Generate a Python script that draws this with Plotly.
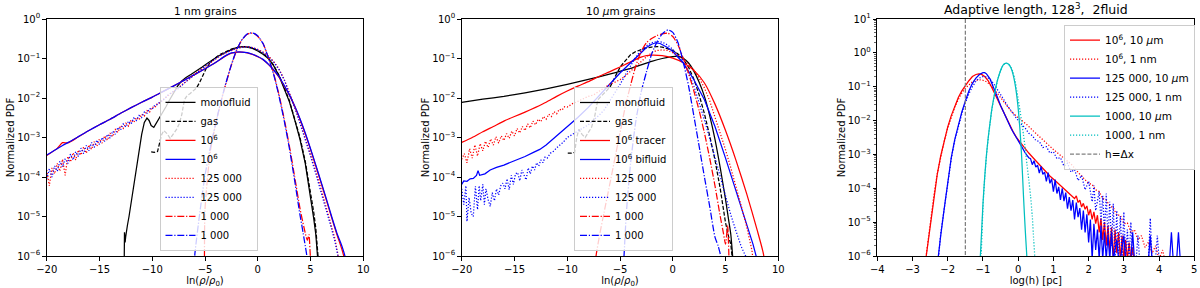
import plotly.graph_objects as go

# ======================= DATA =======================
# ---------- Panel 1 : 1 nm grains  (x = ln(rho/rho0)) ----------
p1_mono_x = [-12.66, -12.63, -12.6, -12.57, -12.52, -12.45, -12.35, -12.2, -12.0, -11.8, -11.5, -11.2, -11.0,
             -10.75, -10.5, -10.3, -10.1, -9.85, -9.6, -9.3, -9.0, -8.7, -8.4, -8.0, -7.6, -7.2, -6.8, -6.3,
             -5.8, -5.3, -4.8, -4.3, -3.8, -3.3, -2.8, -2.3, -1.8, -1.4, -1.0, -0.5, 0.0, 0.5, 1.0, 1.5, 2.0,
             2.5, 3.0, 3.5, 4.0, 4.5, 5.0, 5.3, 5.5, 5.65, 5.75]
p1_mono_y = [5e-7, 4e-6, 5e-7, 2.2e-6, 3e-6, 4.5e-6, 6e-6, 1e-5, 2.2e-5, 5e-5, 1.6e-4, 6e-4, 1.2e-3,
             2.4e-3, 3.1e-3, 2.7e-3, 2.0e-3, 1.8e-3, 2.3e-3, 3.1e-3, 4.2e-3, 6e-3, 8.5e-3, 1.35e-2, 2.0e-2,
             2.7e-2, 3.3e-2, 4.0e-2, 4.8e-2, 6.0e-2, 7.5e-2, 9.3e-2, 1.12e-1, 1.32e-1, 1.55e-1, 1.78e-1,
             1.95e-1, 2.0e-1, 1.95e-1, 1.8e-1, 1.55e-1, 1.28e-1, 1.0e-1, 6.6e-2, 3.7e-2, 1.8e-2, 8e-3,
             2.8e-3, 9e-4, 2.2e-4, 3.5e-5, 9e-6, 3.5e-6, 1.2e-6, 5e-7]

p1_gas_x = [-10.1, -9.8, -9.5, -9.3, -9.1, -8.9, -8.6, -8.3, -8.0, -7.7, -7.45, -7.2, -6.95, -6.7, -6.4,
            -6.1, -5.8, -5.5, -5.2, -4.9, -4.5, -4.0, -3.5, -3.0, -2.5, -2.0, -1.5, -1.0, -0.5, 0.0, 0.5,
            1.0, 1.5, 2.0, 2.5, 3.0, 3.5, 4.0, 4.5, 5.0, 5.3, 5.5, 5.7, 5.8]
p1_gas_y = [4.3e-4, 4.2e-4, 4.4e-4, 7e-4, 1.2e-3, 1.5e-3, 1.25e-3, 9.5e-4, 1.2e-3, 1.6e-3, 2.2e-3, 3.8e-3,
            9e-3, 1.15e-2, 1.3e-2, 1.5e-2, 1.8e-2, 2.5e-2, 3.6e-2, 5.5e-2, 8.0e-2, 1.05e-1, 1.3e-1, 1.52e-1,
            1.72e-1, 1.9e-1, 2.0e-1, 1.98e-1, 1.85e-1, 1.6e-1, 1.32e-1, 1.03e-1, 6.8e-2, 3.8e-2, 1.9e-2,
            8.5e-3, 3.0e-3, 1.0e-3, 2.5e-4, 4.5e-5, 1.3e-5, 5e-6, 1.3e-6, 5e-7]

p1_1e6_x = [-20, -19, -18.5, -18, -17, -16, -15, -14, -13, -12, -11, -10, -9, -8, -7, -6, -5, -4, -3, -2.5,
            -2, -1.5, -1, -0.5, 0, 0.5, 1, 1.5, 2, 2.5, 3, 3.5, 4, 4.5, 5, 5.5, 6, 6.5, 7, 7.5, 8, 8.3, 8.45]
p1_red1e6_y = [3.5e-4, 5.3e-4, 7.4e-4, 7.3e-4, 1.04e-3, 1.5e-3, 2.1e-3, 2.9e-3, 4.1e-3, 5.7e-3, 7.8e-3,
               1.05e-2, 1.45e-2, 2.0e-2, 2.8e-2, 3.9e-2, 5.5e-2, 7.9e-2, 1.18e-1, 1.36e-1, 1.44e-1, 1.45e-1,
               1.39e-1, 1.27e-1, 1.11e-1, 9.3e-2, 7.1e-2, 5.1e-2, 3.4e-2, 2.05e-2, 1.17e-2, 6.1e-3, 2.9e-3,
               1.25e-3, 5.0e-4, 1.9e-4, 7.1e-5, 2.6e-5, 9.4e-6, 3.5e-6, 1.4e-6, 7e-7, 5e-7]
p1_blue1e6_y = [3.6e-4, 5.2e-4, 6.3e-4, 7.4e-4, 1.05e-3, 1.5e-3, 2.1e-3, 2.9e-3, 4.1e-3, 5.7e-3, 7.8e-3,
                1.05e-2, 1.45e-2, 2.0e-2, 2.8e-2, 3.9e-2, 5.5e-2, 7.9e-2, 1.2e-1, 1.38e-1, 1.46e-1, 1.46e-1,
                1.4e-1, 1.28e-1, 1.12e-1, 9.5e-2, 7.2e-2, 5.2e-2, 3.5e-2, 2.1e-2, 1.2e-2, 6.3e-3, 3.0e-3,
                1.3e-3, 5.2e-4, 2.0e-4, 7.5e-5, 2.8e-5, 1.0e-5, 3.8e-6, 1.7e-6, 9e-7, 5e-7]

p1_125_x = [-20, -19.75, -19.5, -19.25, -19, -18.75, -18.5, -18.25, -18, -17.75, -17.5, -17.25, -17, -16.75,
            -16.5, -16.25, -16, -15.75, -15.5, -15.25, -15, -14.75, -14.5, -14.25, -14, -13.75, -13.5, -13.25,
            -13, -12.75, -12.5, -12.25, -12, -11.75, -11.5, -11.25, -11, -10.75, -10.5, -10.25, -10, -9.75,
            -9.5, -9.25, -9, -8.5, -8, -7.5, -7, -6.5, -6, -5.5, -5, -4.5, -4, -3.5, -3, -2.5, -2, -1.5, -1,
            -0.5, 0, 0.5, 1, 1.5, 2, 2.5, 3, 3.5, 4, 4.5, 5, 5.5, 6, 6.5, 7, 7.3, 7.6, 7.7]
p1_red125_y = [1.5e-4, 6e-5, 1.7e-4, 1.2e-4, 2.2e-4, 1.4e-4, 2.8e-4, 1.1e-4, 3.3e-4, 2.4e-4, 4.1e-4, 2.7e-4,
               4.8e-4, 3.6e-4, 5.8e-4, 4.0e-4, 6.5e-4, 5.0e-4, 7.8e-4, 6.0e-4, 9.2e-4, 7.2e-4, 1.1e-3, 8.5e-4,
               1.3e-3, 1.05e-3, 1.6e-3, 1.35e-3, 2.0e-3, 1.7e-3, 2.3e-3, 1.95e-3, 2.8e-3, 2.4e-3, 3.2e-3,
               2.8e-3, 3.9e-3, 3.5e-3, 4.8e-3, 4.4e-3, 5.9e-3, 5.7e-3, 7.3e-3, 7.5e-3, 9.0e-3,
               1.15e-2, 1.4e-2, 1.8e-2, 2.3e-2, 3.0e-2, 4.0e-2, 5.0e-2, 6.3e-2, 7.8e-2, 1.0e-1, 1.2e-1,
               1.4e-1, 1.6e-1, 1.8e-1, 1.95e-1, 2.0e-1, 1.9e-1, 1.7e-1, 1.45e-1, 1.15e-1, 8.5e-2, 5.5e-2,
               3.0e-2, 1.4e-2, 6.0e-3, 2.5e-3, 1.0e-3, 3.8e-4, 1.4e-4, 5e-5, 1.7e-5, 5.5e-6, 2.8e-6, 1.1e-6, 5e-7]
p1_blue125_y = [9e-5, 1.6e-4, 1.0e-4, 1.9e-4, 1.4e-4, 2.5e-4, 1.8e-4, 2.9e-4, 2.2e-4, 3.8e-4, 2.7e-4, 4.4e-4,
                3.3e-4, 5.4e-4, 3.9e-4, 6.3e-4, 4.6e-4, 7.5e-4, 5.6e-4, 8.6e-4, 6.7e-4, 1.0e-3, 8.0e-4, 1.2e-3,
                9.6e-4, 1.45e-3, 1.2e-3, 1.8e-3, 1.55e-3, 2.2e-3, 1.85e-3, 2.6e-3, 2.2e-3, 3.1e-3, 2.7e-3,
                3.6e-3, 3.2e-3, 4.4e-3, 4.1e-3, 5.4e-3, 5.2e-3, 6.6e-3, 6.8e-3, 8.2e-3, 8.6e-3,
                1.2e-2, 1.45e-2, 1.75e-2, 2.35e-2, 3.05e-2, 3.9e-2, 5.1e-2, 6.4e-2, 8.0e-2, 1.0e-1, 1.22e-1,
                1.42e-1, 1.62e-1, 1.8e-1, 1.93e-1, 1.98e-1, 1.88e-1, 1.68e-1, 1.42e-1, 1.12e-1, 8.2e-2, 5.3e-2,
                2.9e-2, 1.35e-2, 5.7e-3, 2.3e-3, 9.2e-4, 3.4e-4, 1.2e-4, 4.3e-5, 1.45e-5, 4.8e-6, 2.4e-6, 1.0e-6, 5e-7]

p1_blue1000_x = [-6.05, -5.95, -5.5, -5.0, -4.5, -4.0, -3.5, -3.0, -2.5, -2.0, -1.5, -1.0, -0.65, -0.3, 0.0,
                 0.5, 1.0, 1.5, 2.0, 2.5, 3.0, 3.5, 4.0, 4.3, 4.5, 4.65, 4.72]
p1_blue1000_y = [5e-7, 1.2e-6, 1.2e-5, 1.1e-4, 5.5e-4, 2.2e-3, 8e-3, 2.5e-2, 7e-2, 1.65e-1, 3.0e-1, 4.15e-1,
                 4.45e-1, 4.25e-1, 3.7e-1, 2.4e-1, 1.05e-1, 4.0e-2, 1.15e-2, 2.7e-3, 5.2e-4, 8e-5, 1.1e-5,
                 3.8e-6, 1.8e-6, 1e-6, 5e-7]
p1_red1000_x = [-5.05, -5.0, -4.5, -4.0, -3.5, -3.0, -2.5, -2.0, -1.5, -1.0, -0.65, -0.3, 0.0, 0.5, 1.0, 1.5,
                2.0, 2.5, 3.0, 3.5, 4.0, 4.4, 4.7, 4.85, 4.95, 5.05]
p1_red1000_y = [5e-7, 1.5e-5, 4.5e-4, 2.1e-3, 7.8e-3, 2.4e-2, 6.8e-2, 1.62e-1, 2.95e-1, 4.1e-1, 4.4e-1,
                4.2e-1, 3.65e-1, 2.4e-1, 1.07e-1, 4.2e-2, 1.25e-2, 3.0e-3, 6.0e-4, 1.0e-4, 1.6e-5, 5e-6,
                2.5e-6, 3.5e-6, 1.4e-6, 5e-7]

# ---------- Panel 2 : 10 um grains ----------
p2_mono_x = [-20, -18, -16, -14, -12, -10, -8, -6, -4, -3, -2, -1, 0, 0.5, 1, 1.5, 2, 2.5, 3, 3.5, 4, 4.5,
             5, 5.3, 5.5, 5.65, 5.75]
p2_mono_y = [7.7e-3, 9.3e-3, 1.1e-2, 1.35e-2, 1.7e-2, 2.2e-2, 2.95e-2, 4.0e-2, 5.6e-2, 6.9e-2, 8.5e-2,
             1.0e-1, 1.12e-1, 1.15e-1, 1.02e-1, 7.7e-2, 4.8e-2, 2.5e-2, 1.1e-2, 3.6e-3, 9e-4, 1.7e-4,
             2.7e-5, 8e-6, 3.5e-6, 1.2e-6, 5e-7]

p2_gas_x = [-9.95, -9.6, -9.3, -9.1, -8.9, -8.6, -8.3, -8.0, -7.7, -7.4, -7.1, -6.8, -6.5, -6.2, -5.9, -5.6,
            -5.3, -4.95, -4.5, -4.0, -3.5, -3.0, -2.5, -2.0, -1.5, -1.0, -0.5, 0, 0.5, 1, 1.5, 2, 2.5, 3,
            3.5, 4, 4.5, 5, 5.3, 5.5, 5.6, 5.7]
p2_gas_y = [4e-4, 4e-4, 4.2e-4, 1e-3, 1.6e-3, 1.2e-3, 1.0e-3, 1.4e-3, 1.8e-3, 3.4e-3, 9e-3, 1.1e-2, 1.3e-2,
            1.6e-2, 2e-2, 3e-2, 4.2e-2, 6.3e-2, 9e-2, 1.25e-1, 1.5e-1, 1.7e-1, 1.85e-1, 1.95e-1, 2.0e-1,
            1.95e-1, 1.8e-1, 1.6e-1, 1.3e-1, 9.5e-2, 6e-2, 3e-2, 1.2e-2, 4e-3, 1.1e-3, 2.7e-4, 5e-5, 7e-6,
            3e-6, 2e-6, 1.1e-6, 5e-7]

p2_tracer_x = [-20, -19, -18, -17, -16, -15, -14, -13, -12, -11, -10, -9, -8, -7, -6, -5, -4, -3, -2.5, -2,
               -1, 0, 1, 2, 3, 4, 5, 6, 7, 8, 8.6, 8.7]
p2_tracer_y = [7.5e-4, 1.0e-3, 1.4e-3, 1.9e-3, 2.6e-3, 3.4e-3, 4.4e-3, 5.8e-3, 7.8e-3, 1.1e-2, 1.5e-2,
               2.0e-2, 2.6e-2, 3.5e-2, 4.6e-2, 6.1e-2, 8.2e-2, 1.08e-1, 1.18e-1, 1.22e-1, 1.18e-1, 1.02e-1,
               7.8e-2, 5.0e-2, 2.4e-2, 7.0e-3, 1.5e-3, 2.6e-4, 3.8e-5, 4.5e-6, 1.1e-6, 5e-7]

p2_bifluid_x = [-20, -19.8, -19.5, -19.2, -18.9, -18.6, -18.45, -18.3, -17.8, -17.3, -16.7, -16, -15.3,
                -14.8, -14, -13.2, -12.6, -12, -11.5, -11, -10.5, -10, -9, -8, -7, -6, -5, -4, -3, -2.5,
                -2, -1.6, -1.2, -0.5, 0, 1, 2, 3, 4, 5, 6, 7, 7.6, 7.9, 8.0]
p2_bifluid_y = [6.5e-5, 8e-5, 7.8e-5, 9e-5, 9.2e-5, 1.1e-4, 1.45e-4, 1.1e-4, 1.2e-4, 1.5e-4, 1.75e-4,
                2.0e-4, 2.4e-4, 2.7e-4, 3.3e-4, 4.2e-4, 5e-4, 6.5e-4, 8.5e-4, 1.1e-3, 1.4e-3, 1.9e-3,
                3.2e-3, 5.8e-3, 1.1e-2, 2.2e-2, 4.3e-2, 8e-2, 1.4e-1, 1.9e-1, 2.3e-1, 2.5e-1, 2.4e-1,
                1.9e-1, 1.5e-1, 7.7e-2, 2.9e-2, 9e-3, 1.9e-3, 3e-4, 4.5e-5, 6e-6, 2e-6, 1e-6, 5e-7]

p2_red125_x = [-20, -19.75, -19.5, -19.25, -19, -18.75, -18.5, -18.25, -18, -17.75, -17.5, -17.25, -17,
               -16.75, -16.5, -16.25, -16, -15.75, -15.5, -15.25, -15, -14.75, -14.5, -14.25, -14, -13.75,
               -13.5, -13.25, -13, -12.75, -12.5, -12.25, -12, -11.75, -11.5, -11.25, -11, -10.75, -10.5,
               -10.25, -10, -9.5, -9, -8.5, -8, -7.5, -7, -6.5, -6, -5.5, -5, -4.5, -4, -3.5, -3, -2.5,
               -2, -1.5, -1, -0.5, 0, 0.5, 1, 1.5, 2, 2.5, 3, 3.5, 4, 4.5, 5, 5.5, 6, 6.5, 7, 7.5, 7.7]
p2_red125_y = [2.8e-4, 3.9e-4, 2.3e-4, 5.2e-4, 3.0e-4, 6.5e-4, 3.4e-4, 7.0e-4, 4.6e-4, 8.0e-4, 5.6e-4,
               9.2e-4, 6.4e-4, 1.05e-3, 7.2e-4, 1.1e-3, 8.4e-4, 1.25e-3, 9.5e-4, 1.45e-3, 1.1e-3, 1.7e-3,
               1.3e-3, 1.9e-3, 1.5e-3, 2.2e-3, 1.75e-3, 2.6e-3, 2.1e-3, 2.9e-3, 2.5e-3, 3.4e-3, 2.9e-3,
               3.9e-3, 3.4e-3, 4.5e-3, 4.0e-3, 5.2e-3, 4.9e-3, 6.0e-3, 5.9e-3,
               7.2e-3, 8.2e-3, 9.5e-3, 1.1e-2, 1.2e-2, 1.45e-2, 1.8e-2, 2.2e-2, 2.5e-2, 2.9e-2, 3.6e-2,
               4.8e-2, 6.5e-2, 8.5e-2, 1.1e-1, 1.4e-1, 1.6e-1, 1.65e-1, 1.6e-1, 1.4e-1, 1.2e-1, 9.5e-2,
               7.2e-2, 5.2e-2, 3.2e-2, 1.8e-2, 8.5e-3, 3.4e-3, 1.3e-3, 4.9e-4, 1.7e-4, 5.8e-5, 1.8e-5,
               5.6e-6, 1.4e-6, 5e-7]

p2_blue125_x = [-20, -19.8, -19.6, -19.5, -19.3, -19.1, -18.9, -18.7, -18.5, -18.35, -18.2, -18.0, -17.85,
                -17.7, -17.5, -17.3, -17.1, -16.9, -16.7, -16.5, -16.3, -16.1, -15.9, -15.7, -15.5, -15.3,
                -15.1, -14.9, -14.7, -14.5, -14.3, -14.1, -13.9, -13.7, -13.5, -13.3, -13.1, -12.9, -12.7,
                -12.5, -12.3, -12.1, -11.9, -11.6, -11.3, -11.0, -10.7, -10.4, -10.0, -9.5, -9, -8.5, -8,
                -7.5, -7, -6.5, -6, -5.5, -5, -4.5, -4, -3.5, -3, -2.5, -2, -1.5, -1, -0.5, 0, 0.5, 1, 1.5,
                2, 2.5, 3, 3.5, 4, 4.5, 5, 5.5, 6, 6.5, 6.9, 7.0]
p2_blue125_y = [5e-5, 2e-5, 6e-5, 7.5e-6, 3e-5, 1.2e-5, 1e-5, 5.8e-5, 1.5e-5, 6e-5, 2.5e-5, 6.5e-5, 2e-5,
                5e-5, 2.7e-5, 1.8e-5, 4e-5, 2.5e-5, 5e-5, 3.5e-5, 6e-5, 7e-5, 5e-5, 9e-5, 4.8e-5, 1.1e-4,
                6.5e-5, 1.2e-4, 1.3e-4, 8e-5, 1.5e-4, 1.1e-4, 8.5e-5, 1.7e-4, 1.2e-4, 1.9e-4, 1.5e-4, 2.3e-4,
                1.9e-4, 2.7e-4, 2.3e-4, 3.2e-4, 3e-4, 4e-4, 4.5e-4, 5.5e-4, 6.5e-4, 7.5e-4, 1.0e-3, 1.2e-3,
                1.4e-3, 1.7e-3, 2.1e-3, 2.8e-3, 3.6e-3, 5e-3, 8e-3, 1.3e-2, 2.2e-2, 3.8e-2, 6.3e-2, 1.1e-1,
                1.6e-1, 2.1e-1, 2.5e-1, 2.7e-1, 2.6e-1, 2.2e-1, 1.7e-1, 1.2e-1, 7.7e-2, 4.2e-2, 2.0e-2,
                8e-3, 2.8e-3, 9.5e-4, 3.0e-4, 1.0e-4, 3e-5, 1.1e-5, 4.2e-6, 1.7e-6, 1e-6, 5e-7]

p2_red1000_x = [-7.35, -7.27, -6.9, -6.5, -6.0, -5.5, -5.0, -4.5, -4.0, -3.5, -3.0, -2.5, -2.0, -1.5, -1.0,
                -0.5, 0, 0.5, 1.0, 1.5, 2.0, 2.5, 3.0, 3.5, 4.0, 4.5, 4.8, 5.0, 5.2, 5.3, 5.35]
p2_red1000_y = [5e-7, 1e-6, 3.8e-6, 1.3e-5, 6e-5, 2.8e-4, 1.3e-3, 6e-3, 2.1e-2, 6.5e-2, 1.5e-1, 2.5e-1,
                3.2e-1, 3.8e-1, 4.2e-1, 4.4e-1, 3.6e-1, 2.2e-1, 1.0e-1, 4.2e-2, 1.5e-2, 4.8e-3, 1.3e-3,
                3e-4, 6e-5, 1e-5, 3.8e-6, 2e-6, 6e-6, 1.5e-6, 5e-7]
p2_blue1000_x = [-4.7, -4.62, -4.4, -4.0, -3.5, -3.0, -2.5, -2.0, -1.5, -1.0, -0.45, 0, 0.5, 1.0, 1.5, 2.0,
                 2.5, 3.0, 3.5, 4.0, 4.3, 4.54, 4.6]
p2_blue1000_y = [5e-7, 1e-6, 1.2e-5, 2.2e-4, 2.6e-3, 1.4e-2, 4.5e-2, 1.3e-1, 2.6e-1, 4.2e-1, 5.3e-1, 4.6e-1,
                 2.5e-1, 8e-2, 2e-2, 3.5e-3, 6e-4, 1e-4, 1.8e-5, 3e-6, 1.8e-6, 1e-6, 5e-7]

# ---------- Panel 3 : adaptive length (x = log h [pc]) ----------
p3_red10_x = [-2.65, -2.6, -2.5, -2.4, -2.3, -2.2, -2.1, -2.0, -1.9, -1.8, -1.7, -1.6, -1.5, -1.4, -1.3, -1.2,
              -1.12, -1.05, -0.95, -0.85, -0.75, -0.65, -0.55, -0.45, -0.35, -0.25, -0.15, -0.05, 0.1, 0.3,
              0.5, 0.7, 0.9, 1.1, 1.3, 1.5,
              1.6, 1.65, 1.7, 1.75, 1.8, 1.85, 1.9, 1.95, 2.0, 2.05, 2.1, 2.15, 2.2, 2.25, 2.3, 2.35, 2.4,
              2.45, 2.5, 2.55, 2.6, 2.65, 2.7, 2.75, 2.8, 2.85, 2.9, 2.95, 3.0, 3.05, 3.1, 3.15, 3.2, 3.25,
              3.3, 3.35]
p3_red10_y = [5e-7, 1.2e-6, 6e-6, 5e-5, 2.5e-4, 9e-4, 2.6e-3, 6.5e-3, 1.4e-2, 2.8e-2, 4.8e-2, 7.5e-2, 1.1e-1,
              1.5e-1, 2.0e-1, 2.3e-1, 2.4e-1, 2.35e-1, 2.0e-1, 1.5e-1, 9.5e-2, 5.8e-2, 3.4e-2, 2.0e-2,
              1.2e-2, 7.5e-3, 4.8e-3, 3.2e-3, 2.0e-3, 1.1e-3, 6.5e-4, 3.8e-4, 2.3e-4, 1.5e-4, 9.5e-5, 6.2e-5,
              5e-5, 6e-5, 3.8e-5, 4.5e-5, 2.8e-5, 3.6e-5, 2.4e-5, 3e-5, 1.6e-5, 2.4e-5, 1.2e-5, 2e-5, 9e-6,
              1.6e-5, 5e-6, 1.3e-5, 3e-6, 1e-5, 2e-6, 8e-6, 1.5e-6, 7e-6, 8e-7, 6e-6, 1.2e-6, 5e-6, 8e-7,
              4e-6, 8e-7, 3e-6, 8e-7, 2.5e-6, 8e-7, 1.8e-6, 5e-7, 5e-7]

p3_red1nm_x = [-2.65, -2.6, -2.5, -2.4, -2.3, -2.2, -2.1, -2.0, -1.9, -1.8, -1.7, -1.6, -1.5, -1.4, -1.3, -1.2,
               -1.1, -1.0, -0.9, -0.8, -0.7, -0.6, -0.5, -0.4, -0.3, -0.2, -0.1, 0.0, 0.25, 0.5, 0.75, 1.0,
               1.25, 1.5, 1.75, 2.0,
               2.1, 2.2, 2.3, 2.4, 2.5, 2.6, 2.7, 2.8, 2.9, 3.0, 3.1, 3.2, 3.3, 3.4, 3.5, 3.6, 3.7, 3.8, 3.9,
               4.0, 4.1, 4.2]
p3_red1nm_y = [5e-7, 1.3e-6, 6.5e-6, 5.5e-5, 2.6e-4, 9e-4, 2.5e-3, 6e-3, 1.3e-2, 2.5e-2, 4.2e-2, 6.5e-2,
               9e-2, 1.15e-1, 1.4e-1, 1.55e-1, 1.6e-1, 1.55e-1, 1.4e-1, 1.15e-1, 9e-2, 6.5e-2, 4.7e-2,
               3.4e-2, 2.5e-2, 1.9e-2, 1.5e-2, 1.25e-2, 7.5e-3, 4.2e-3, 2.4e-3, 1.4e-3, 8.5e-4, 5.2e-4,
               2.6e-4, 1.4e-4,
               1.3e-4, 9e-5, 8e-5, 5e-5, 4.5e-5, 3e-5, 2.7e-5, 1.6e-5, 1.6e-5, 9e-6, 9.5e-6, 5e-6, 6e-6,
               3e-6, 4e-6, 1.8e-6, 2.6e-6, 1.2e-6, 2e-6, 8e-7, 1.5e-6, 5e-7]

p3_blue10_x = [-2.3, -2.27, -2.2, -2.1, -2.0, -1.9, -1.8, -1.7, -1.6, -1.5, -1.4, -1.3, -1.2, -1.1, -1.0,
               -0.95, -0.9, -0.8, -0.7, -0.6, -0.5, -0.4, -0.3, -0.2, -0.1, 0.0, 0.1, 0.2, 0.3,
               0.35, 0.4, 0.45, 0.5, 0.55, 0.6, 0.65, 0.7, 0.75, 0.8, 0.85, 0.9, 0.95, 1.0, 1.05, 1.1, 1.15,
               1.2, 1.25, 1.3, 1.35, 1.4, 1.45, 1.5, 1.55, 1.6, 1.65, 1.7, 1.75, 1.8, 1.85, 1.9, 1.95, 2.0,
               2.05, 2.1, 2.15, 2.2, 2.25, 2.3, 2.35, 2.4, 2.45, 2.5, 2.55, 2.6, 2.65, 2.7,
               2.8, 2.85, 2.9, 3.0, 3.05, 3.1, 3.2, 3.25, 3.3, 3.7, 3.75, 3.8, 4.3, 4.35, 4.4, 4.5, 4.55, 4.6]
p3_blue10_y = [5e-7, 1e-6, 4e-6, 2.5e-5, 1.6e-4, 8e-4, 2.8e-3, 7.5e-3, 1.8e-2, 3.8e-2, 7.5e-2, 1.25e-1,
               1.8e-1, 2.3e-1, 2.6e-1, 2.6e-1, 2.4e-1, 1.7e-1, 1.0e-1, 5.2e-2, 2.8e-2, 1.6e-2, 9e-3, 5.8e-3,
               3.8e-3, 2.6e-3, 1.7e-3, 1.1e-3, 8e-4,
               7.5e-4, 5e-4, 6.5e-4, 4.2e-4, 4.8e-4, 2.8e-4, 4.4e-4, 2.6e-4, 3.0e-4, 1.6e-4, 2.9e-4, 1.4e-4,
               1.9e-4, 8e-5, 1.8e-4, 7e-5, 1.1e-4, 4.5e-5, 1.0e-4, 4.2e-5, 7.5e-5, 2.5e-5, 5.5e-5, 2.2e-5,
               4.5e-5, 1.2e-5, 3.8e-5, 1.4e-5, 2.6e-5, 6e-6, 2.2e-5, 5e-6, 1.7e-5, 2.5e-6, 1.2e-5, 8e-7, 9e-6,
               1.5e-6, 6e-6, 8e-7, 8e-6, 8e-7, 5e-6, 8e-7, 4e-6, 8e-7, 5e-6, 8e-7,
               3e-6, 8e-7, 8e-7, 4e-6, 8e-7, 8e-7, 8e-7, 5e-6, 8e-7, 8e-7, 4e-6, 8e-7, 8e-7, 5e-6, 8e-7, 8e-7,
               5e-6, 8e-7]

p3_blue1nm_x = [-2.3, -2.25, -2.2, -2.1, -2.0, -1.9, -1.8, -1.7, -1.6, -1.5, -1.4, -1.3, -1.2, -1.1, -1.0,
                -0.9, -0.8, -0.7, -0.6, -0.5, -0.4, -0.3, -0.2, -0.1, 0.0, 0.1,
                0.2, 0.3, 0.4, 0.5, 0.6, 0.7, 0.8, 0.9, 1.0, 1.1, 1.2, 1.3, 1.4, 1.5, 1.6, 1.7, 1.8, 1.9, 2.0,
                2.1, 2.15, 2.2, 2.3, 2.35, 2.4, 2.45, 2.5, 2.55, 2.6, 2.65, 2.7, 2.75, 2.8, 2.85, 2.9, 2.95,
                3.0, 3.05, 3.1, 3.15, 3.2, 3.25, 3.35, 3.4, 3.45, 3.7, 3.75, 3.8, 3.9, 3.95, 4.0]
p3_blue1nm_y = [5e-7, 1.2e-6, 4.5e-6, 2.6e-5, 1.6e-4, 7.5e-4, 2.6e-3, 7e-3, 1.6e-2, 3.3e-2, 6.2e-2, 1.0e-1,
                1.45e-1, 1.8e-1, 2.0e-1, 1.95e-1, 1.65e-1, 1.25e-1, 8.8e-2, 6.0e-2, 4.0e-2, 2.7e-2, 1.9e-2,
                1.35e-2, 1.0e-2, 7.6e-3,
                6e-3, 4.2e-3, 3.6e-3, 2.6e-3, 2.4e-3, 1.6e-3, 1.7e-3, 1.1e-3, 1.2e-3, 7.5e-4, 8e-4, 4.5e-4,
                5.5e-4, 3e-4, 3.6e-4, 1.7e-4, 2.4e-4, 9e-5, 1.6e-4,
                4e-5, 1.2e-4, 2.2e-5, 8e-5, 1e-5, 6e-5, 5e-6, 7e-5, 3e-6, 4e-5, 2e-6, 3.5e-5, 8e-7, 2.2e-5,
                8e-7, 1.5e-5, 8e-7, 2e-5, 8e-7, 6e-6, 8e-7, 1e-5, 8e-7, 8e-7, 4e-6, 8e-7, 8e-7, 1.3e-5, 8e-7,
                8e-7, 4e-6, 8e-7]

p3_cyan10_x = [-1.1, -1.07, -1.0, -0.95, -0.9, -0.85, -0.8, -0.75, -0.7, -0.65, -0.6, -0.55, -0.5, -0.45,
               -0.4, -0.33, -0.27, -0.2, -0.15, -0.1, -0.05, 0.0, 0.05, 0.1, 0.15, 0.2, 0.24, 0.26]
p3_cyan10_y = [5e-7, 1.2e-6, 3.5e-5, 2.2e-4, 1e-3, 3.2e-3, 8.5e-3, 2.1e-2, 4.2e-2, 8e-2, 1.4e-1, 2.1e-1,
               3.0e-1, 4.0e-1, 4.7e-1, 5.0e-1, 4.6e-1, 3.5e-1, 2.4e-1, 1.4e-1, 6.5e-2, 2.3e-2, 5.5e-3,
               8e-4, 6e-5, 6e-6, 1.2e-6, 5e-7]
p3_cyan1nm_x = [-1.08, -1.05, -1.0, -0.95, -0.9, -0.85, -0.8, -0.75, -0.7, -0.65, -0.6, -0.55, -0.5, -0.45,
                -0.4, -0.33, -0.27, -0.2, -0.15, -0.1, -0.05, 0.0, 0.05, 0.1, 0.15, 0.2, 0.25, 0.3, 0.35,
                0.4, 0.44, 0.47, 0.49]
p3_cyan1nm_y = [5e-7, 1.2e-6, 2.8e-5, 2e-4, 9e-4, 3e-3, 8e-3, 2e-2, 4e-2, 7.8e-2, 1.35e-1, 2.05e-1, 2.95e-1,
                3.9e-1, 4.6e-1, 4.9e-1, 4.6e-1, 3.7e-1, 2.7e-1, 1.7e-1, 9e-2, 4.2e-2, 2e-2, 9e-3, 3.8e-3,
                1.5e-3, 5e-4, 1.8e-4, 6e-5, 1.5e-5, 3e-6, 1e-6, 5e-7]

h_dx = -1.5                      # log10 of the cell size
pdf_span = [1e-7, 1e2]           # vertical extent of the h = dx marker

# tick labels
ticks_12 = [1e-6, 1e-5, 1e-4, 1e-3, 1e-2, 1e-1, 1e0]
ticktext_12 = ["10<sup>\u22126</sup>", "10<sup>\u22125</sup>", "10<sup>\u22124</sup>", "10<sup>\u22123</sup>",
               "10<sup>\u22122</sup>", "10<sup>\u22121</sup>", "10<sup>0</sup>"]
ticks_3 = ticks_12 + [1e1]
ticktext_3 = ticktext_12 + ["10<sup>1</sup>"]

# ======================= STYLE =======================
RED, BLUE, BLACK, CYAN, GRAY = "#ff0000", "#0000ff", "#000000", "#00bfbf", "#808080"
SOLID, DASH, DOT, DASHDOT = "solid", "4px,1.8px", "1.2px,1.8px", "7px,1.8px,1.2px,1.8px"
FONT = "DejaVu Sans"

fig = go.Figure()


def add(x, y, name, color, dash, axes, legend, shape="spline"):
    assert len(x) == len(y), name
    fig.add_trace(go.Scatter(
        x=x, y=y, name=name, mode="lines",
        line=dict(color=color, width=1.25, dash=dash, shape=shape, smoothing=0.6),
        xaxis=axes[0], yaxis=axes[1], legend=legend, hoverinfo="skip"))


A1, A2, A3 = ("x", "y"), ("x2", "y2"), ("x3", "y3")
# panel 1
add(p1_mono_x, p1_mono_y, "monofluid", BLACK, SOLID, A1, "legend", "linear")
add(p1_gas_x, p1_gas_y, "gas", BLACK, DASH, A1, "legend", "linear")
add(p1_1e6_x, p1_red1e6_y, "10<sup>6</sup>", RED, SOLID, A1, "legend")
add(p1_1e6_x, p1_blue1e6_y, "10<sup>6</sup>", BLUE, SOLID, A1, "legend")
add(p1_125_x, p1_red125_y, "125 000", RED, DOT, A1, "legend", "linear")
add(p1_125_x, p1_blue125_y, "125 000", BLUE, DOT, A1, "legend", "linear")
add(p1_red1000_x, p1_red1000_y, "1 000", RED, DASHDOT, A1, "legend")
add(p1_blue1000_x, p1_blue1000_y, "1 000", BLUE, DASHDOT, A1, "legend")
# panel 2
add(p2_mono_x, p2_mono_y, "monofluid", BLACK, SOLID, A2, "legend2")
add(p2_gas_x, p2_gas_y, "gas", BLACK, DASH, A2, "legend2", "linear")
add(p2_tracer_x, p2_tracer_y, "10<sup>6</sup> tracer", RED, SOLID, A2, "legend2")
add(p2_bifluid_x, p2_bifluid_y, "10<sup>6</sup> bifluid", BLUE, SOLID, A2, "legend2", "linear")
add(p2_red125_x, p2_red125_y, "125 000", RED, DOT, A2, "legend2", "linear")
add(p2_blue125_x, p2_blue125_y, "125 000", BLUE, DOT, A2, "legend2", "linear")
add(p2_red1000_x, p2_red1000_y, "1 000", RED, DASHDOT, A2, "legend2")
add(p2_blue1000_x, p2_blue1000_y, "1 000", BLUE, DASHDOT, A2, "legend2")
# panel 3
add(p3_red10_x, p3_red10_y, "10<sup>6</sup>, 10 <i>\u03bc</i>m", RED, SOLID, A3, "legend3", "linear")
add(p3_red1nm_x, p3_red1nm_y, "10<sup>6</sup>, 1 nm", RED, DOT, A3, "legend3", "linear")
add(p3_blue10_x, p3_blue10_y, "125 000, 10 <i>\u03bc</i>m", BLUE, SOLID, A3, "legend3", "linear")
add(p3_blue1nm_x, p3_blue1nm_y, "125 000, 1 nm", BLUE, DOT, A3, "legend3", "linear")
add(p3_cyan10_x, p3_cyan10_y, "1000, 10 <i>\u03bc</i>m", CYAN, SOLID, A3, "legend3")
add(p3_cyan1nm_x, p3_cyan1nm_y, "1000, 1 nm", CYAN, DOT, A3, "legend3")
add([h_dx, h_dx], pdf_span, "h=\u0394x", GRAY, DASH, A3, "legend3", "linear")

# ======================= LAYOUT =======================
W, H = 1200, 288
L1, R1 = 46.7, 363.3
L2, R2 = 461.7, 778.3
L3, R3 = 877.3, 1194.3
TOP, BOT = 19.3, 256.0

tickfont = dict(family=FONT, size=10, color="black")
titlefont = dict(family=FONT, size=10, color="black")


def xax(l, r, rng, dtick, title, anchor):
    return dict(domain=[l / W, r / W], range=rng, dtick=dtick, tick0=0, anchor=anchor,
                showline=True, mirror=True, linecolor="black", linewidth=1, ticks="outside",
                ticklen=3.5, tickwidth=1, tickcolor="black", showgrid=False, zeroline=False,
                tickfont=tickfont, title=dict(text=title, font=titlefont, standoff=0), automargin=False)


def yax(rng, tv, tt, anchor, minor=False):
    d = dict(type="log", range=rng, domain=[0, 1], anchor=anchor, tickmode="array", tickvals=tv,
             ticktext=tt, showline=True, mirror=True, linecolor="black", linewidth=1, ticks="outside",
             ticklen=3.5, tickwidth=1, tickcolor="black", showgrid=False, zeroline=False,
             tickfont=tickfont, title=dict(text="Normalized PDF", font=titlefont, standoff=0),
             automargin=False)
    if minor:
        d["minor"] = dict(ticks="outside", ticklen=2, tickwidth=0.6, tickcolor="black", dtick="D1",
                          showgrid=False)
    return d


legend_common = dict(bgcolor="rgba(255,255,255,0.8)", bordercolor="#cccccc", borderwidth=1,
                     itemwidth=30, tracegroupgap=0, traceorder="normal", itemclick=False,
                     itemdoubleclick=False)
ph = BOT - TOP

fig.update_layout(
    width=W, height=H, margin=dict(l=0, r=0, t=TOP, b=H - BOT, pad=0),
    paper_bgcolor="white", plot_bgcolor="white", font=dict(family=FONT, color="black"),
    showlegend=True,
    xaxis=xax(L1, R1, [-20, 10], 5, "ln(<i>\u03c1</i>/<i>\u03c1</i><sub>0</sub>)", "y"),
    xaxis2=xax(L2, R2, [-20, 10], 5, "ln(<i>\u03c1</i>/<i>\u03c1</i><sub>0</sub>)", "y2"),
    xaxis3=xax(L3, R3, [-4, 5], 1, "log(h) [pc]", "y3"),
    yaxis=yax([-6, 0], ticks_12, ticktext_12, "x"),
    yaxis2=yax([-6, 0], ticks_12, ticktext_12, "x2"),
    yaxis3=yax([-6, 1], ticks_3, ticktext_3, "x3", minor=True),
    legend=dict(x=159.5 / W, y=(BOT - 251) / ph, xanchor="left", yanchor="bottom",
                font=dict(family=FONT, size=10, color="black"), **legend_common),
    legend2=dict(x=574 / W, y=(BOT - 251) / ph, xanchor="left", yanchor="bottom",
                 font=dict(family=FONT, size=10, color="black"), **legend_common),
    legend3=dict(x=1064 / W, y=(BOT - 25) / ph, xanchor="left", yanchor="top",
                 font=dict(family=FONT, size=10.5, color="black"), **legend_common),
    annotations=[
        dict(text="1 nm grains", x=(L1 + R1) / 2 / W, y=1, xref="paper", yref="paper",
             xanchor="center", yanchor="bottom", showarrow=False, font=dict(family=FONT, size=10.5)),
        dict(text="10 <i>\u03bc</i>m grains", x=(L2 + R2) / 2 / W, y=1, xref="paper", yref="paper",
             xanchor="center", yanchor="bottom", showarrow=False, font=dict(family=FONT, size=10.5)),
        dict(text="Adaptive length, 128<sup>3</sup>,  2fluid", x=(L3 + R3) / 2 / W, y=1, xref="paper",
             yref="paper", xanchor="center", yanchor="bottom", showarrow=False,
             font=dict(family=FONT, size=12.5)),
    ],
)

# the page is photographed from its top-left corner: drop the browser's default body margin,
# and hide the interactive mode bar
fig.write_html("out.html", config={"displayModeBar": False, "staticPlot": True},
               post_script="document.body.style.margin='0px';document.body.style.padding='0px';")
